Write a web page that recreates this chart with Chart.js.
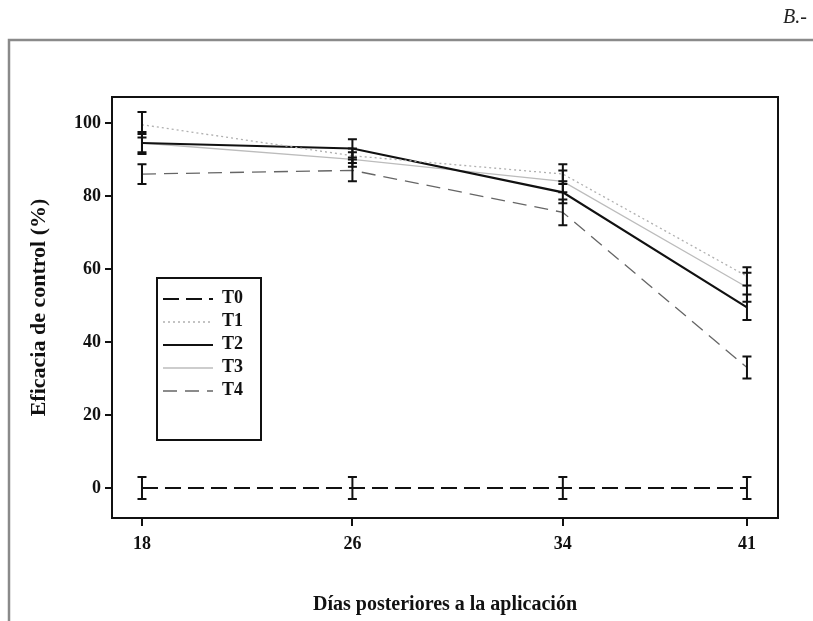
<!DOCTYPE html>
<html>
<head>
<meta charset="utf-8">
<script src="https://cdn.jsdelivr.net/npm/chart.js@4/dist/chart.umd.min.js"></script>
<style>
  html, body { margin: 0; padding: 0; background: #fff; }
  #wrap { width: 813px; height: 621px; position: relative; }
</style>
</head>
<body>
<div id="wrap"><canvas id="chart" width="813" height="621"></canvas></div>
<script>
// ── Data ─────────────────────────────────────────────────
const days = [18, 26, 34, 41];
const xTicks = [18, 26, 34, 41];
const yTicks = [0, 20, 40, 60, 80, 100];
const seriesNames = ['T0', 'T1', 'T2', 'T3', 'T4'];

const t0 = [0, 0, 0, 0];
const t1 = [99.5, 91, 86, 58];
const t2 = [94.5, 93, 81, 49.5];
const t3 = [94.5, 90, 84, 55];
const t4 = [86, 87, 75.5, 33];

const errT0 = [3, 3, 3, 3];
const errT1 = [3.5, 2, 2.7, 2.5];
const errT2 = [3, 2.5, 3, 3.5];
const errT3 = [2.5, 2, 3, 4];
const errT4 = [2.7, 3, 3.5, 3];

const SERIF = "'Liberation Serif', 'Times New Roman', serif";

// ── Series styles ────────────────────────────────────────
const styles = [
  { color: '#111', width: 2, dash: [16, 7] },
  { color: '#b0b0b0', width: 1.3, dash: [2, 3] },
  { color: '#111', width: 2.2, dash: [] },
  { color: '#bcbcbc', width: 1.3, dash: [] },
  { color: '#666', width: 1.3, dash: [14, 8] }
];
const values = [t0, t1, t2, t3, t4];
const errors = [errT0, errT1, errT2, errT3, errT4];

const datasets = values.map((vals, i) => ({
  label: seriesNames[i],
  data: days.map((d, j) => ({ x: d, y: vals[j] })),
  err: errors[i],
  borderColor: styles[i].color,
  borderWidth: styles[i].width,
  borderDash: styles[i].dash,
  pointRadius: 0,
  tension: 0,
  fill: false
}));

// ── Plugins: frame, error bars, legend box ───────────────
const framePlugin = {
  id: 'frame',
  beforeDraw(chart) {
    const c = chart.ctx;
    c.save();
    c.fillStyle = '#fff';
    c.fillRect(0, 0, chart.width, chart.height);
    c.strokeStyle = '#8a8a8a';
    c.lineWidth = 2.5;
    c.beginPath();
    c.moveTo(chart.width, 40);
    c.lineTo(9, 40);
    c.lineTo(9, chart.height);
    c.stroke();
    c.fillStyle = '#222';
    c.font = 'italic 20px ' + SERIF;
    c.textAlign = 'right';
    c.textBaseline = 'middle';
    c.fillText('B.-', 807, 18);
    c.restore();
  },
  afterDraw(chart) {
    const a = chart.chartArea, c = chart.ctx;
    c.save();
    c.strokeStyle = '#111';
    c.lineWidth = 2;
    c.strokeRect(a.left, a.top, a.right - a.left, a.bottom - a.top);
    c.restore();
  }
};

const errorBarPlugin = {
  id: 'errorBars',
  afterDatasetsDraw(chart) {
    const c = chart.ctx, xs = chart.scales.x, ys = chart.scales.y;
    c.save();
    c.strokeStyle = '#111';
    c.lineWidth = 2;
    c.setLineDash([]);
    chart.data.datasets.forEach(ds => {
      ds.data.forEach((p, j) => {
        const px = xs.getPixelForValue(p.x);
        const top = ys.getPixelForValue(p.y + ds.err[j]);
        const bot = ys.getPixelForValue(p.y - ds.err[j]);
        c.beginPath();
        c.moveTo(px, top); c.lineTo(px, bot);
        c.moveTo(px - 4.5, top); c.lineTo(px + 4.5, top);
        c.moveTo(px - 4.5, bot); c.lineTo(px + 4.5, bot);
        c.stroke();
      });
    });
    c.restore();
  }
};

const legendBoxPlugin = {
  id: 'legendBox',
  afterDraw(chart) {
    const c = chart.ctx;
    const bx = 157, by = 278, bw = 104, bh = 162;
    c.save();
    c.fillStyle = '#fff';
    c.fillRect(bx, by, bw, bh);
    c.strokeStyle = '#111';
    c.lineWidth = 2;
    c.strokeRect(bx, by, bw, bh);
    c.font = 'bold 18px ' + SERIF;
    c.textBaseline = 'middle';
    chart.data.datasets.forEach((ds, i) => {
      const y = 298 + i * 23;
      c.strokeStyle = ds.borderColor;
      c.lineWidth = ds.borderWidth;
      c.setLineDash(ds.borderDash);
      c.beginPath();
      c.moveTo(163, y + 1); c.lineTo(213, y + 1);
      c.stroke();
      c.setLineDash([]);
      c.fillStyle = '#111';
      c.fillText(ds.label, 222, y);
    });
    c.restore();
  }
};

// ── Chart ────────────────────────────────────────────────
new Chart(document.getElementById('chart'), {
  type: 'line',
  data: { datasets },
  plugins: [framePlugin, errorBarPlugin, legendBoxPlugin],
  options: {
    responsive: false,
    animation: false,
    layout: { padding: { left: 0, top: 97, right: 35, bottom: 0 } },
    plugins: { legend: { display: false }, tooltip: { enabled: false } },
    scales: {
      x: {
        type: 'linear',
        min: 16.86,
        max: 42.18,
        afterFit: s => { s.height = 103; },
        afterBuildTicks: s => { s.ticks = xTicks.map(v => ({ value: v })); },
        grid: { drawOnChartArea: false, drawTicks: true, tickLength: 8, color: '#111', lineWidth: 2 },
        border: { display: true, color: '#111', width: 2 },
        ticks: { color: '#111', font: { family: SERIF, size: 18, weight: 'bold' }, padding: 8, maxRotation: 0 },
        title: {
          display: true,
          text: 'Días posteriores a la aplicación',
          color: '#111',
          font: { family: SERIF, size: 20, weight: 'bold' },
          padding: { top: 0, bottom: 4 }
        }
      },
      y: {
        type: 'linear',
        min: -8.2,
        max: 107.1,
        afterFit: s => { s.width = 112; },
        afterBuildTicks: s => { s.ticks = yTicks.map(v => ({ value: v })); },
        grid: { drawOnChartArea: false, drawTicks: true, tickLength: 7, color: '#111', lineWidth: 2 },
        border: { display: true, color: '#111', width: 2 },
        ticks: { color: '#111', font: { family: SERIF, size: 18, weight: 'bold' }, padding: 4 },
        title: {
          display: true,
          text: 'Eficacia de control (%)',
          color: '#111',
          font: { family: SERIF, size: 22, weight: 'bold' },
          padding: { top: 26, bottom: 0 }
        }
      }
    }
  }
});
</script>
</body>
</html>
